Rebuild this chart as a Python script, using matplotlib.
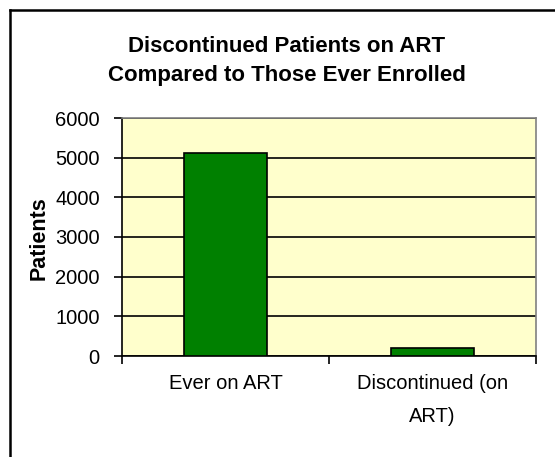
import numpy as np
import matplotlib.pyplot as plt
from matplotlib.lines import Line2D

categorias = ["Ever on ART", "Discontinued (on\nART)"]
pacientes = [5130, 200]
yticks = [0, 1000, 2000, 3000, 4000, 5000, 6000]

plt.rcParams['font.family'] = ['Liberation Sans', 'DejaVu Sans']

fig = plt.figure(figsize=(5.55, 4.57), dpi=100)
ax = fig.add_axes([122/555, 1-356/457, (536-122)/555, (356-118)/457])
ax.set_facecolor('#FFFFCC')

x = np.arange(len(categorias))
ax.bar(x, pacientes, width=0.4, color='#008000', edgecolor='black', linewidth=1.2, zorder=3)

ax.set_xlim(-0.5, len(categorias)-0.5)
ax.set_ylim(0, 6000)
ax.set_yticks(yticks)
ax.set_yticklabels([str(v) for v in yticks], fontsize=14.5)
ax.yaxis.grid(True, color='black', linewidth=1.2, zorder=1)
ax.set_axisbelow(True)

# etiquetas de categoria centradas, ticks en los limites
ax.set_xticks(np.arange(-0.5, len(categorias), 1.0))
ax.set_xticklabels([])
ax.set_xticks(x, minor=True)
ax.set_xticklabels(categorias, minor=True, fontsize=14.5, linespacing=1.9)
ax.tick_params(axis='x', which='minor', length=0, pad=13)
ax.tick_params(axis='x', which='major', length=6, width=1.2, direction='out')
ax.tick_params(axis='y', length=6, width=1.2, direction='out', pad=10)

for s in ['top', 'right']:
    ax.spines[s].set_color('#808080')
    ax.spines[s].set_linewidth(1.2)
for s in ['left', 'bottom']:
    ax.spines[s].set_color('black')
    ax.spines[s].set_linewidth(1.2)

ax.set_ylabel('Patients', fontsize=15.5, fontweight='bold', va='center')
ax.yaxis.set_label_coords(39/555, 1-238/457, transform=fig.transFigure)

fig.text(287/555, 1-61/457, 'Discontinued Patients on ART\nCompared to Those Ever Enrolled',
         ha='center', va='center', fontsize=16, fontweight='bold', linespacing=1.55)

# marco exterior del grafico
fig.add_artist(Line2D([10/555, 10/555], [0, 1-10/457], color='black', linewidth=1.8))
fig.add_artist(Line2D([10/555, 1], [1-10/457, 1-10/457], color='black', linewidth=1.8))

fig.savefig('out.png', dpi=100)
